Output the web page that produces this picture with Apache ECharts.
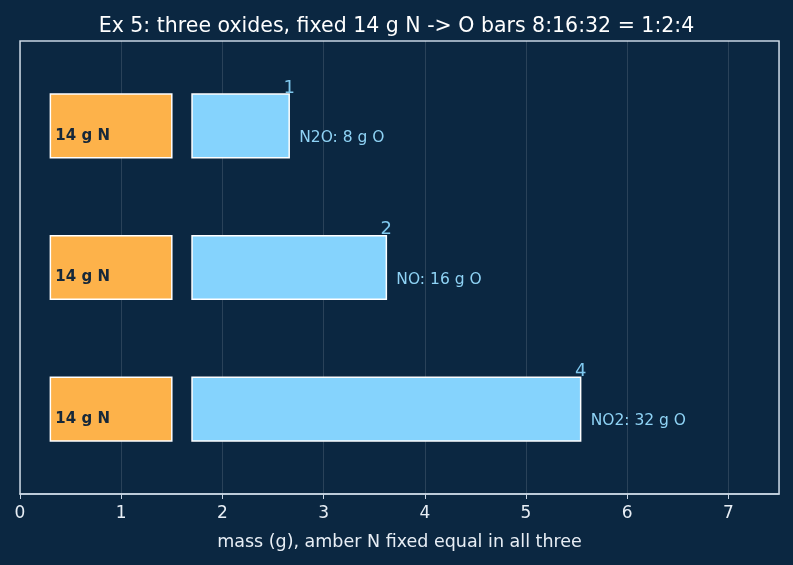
<!DOCTYPE html>
<html>
<head>
<meta charset="utf-8">
<script src="https://cdn.jsdelivr.net/npm/echarts@6/dist/echarts.min.js"></script>
<style>
  html, body { margin: 0; padding: 0; background: #0b2741; }
  #chart { width: 793px; height: 565px; }
</style>
</head>
<body>
<div id="chart"></div>
<script>
// data
const oxides = ['N2O', 'NO', 'NO2']
const oxygenGrams = [8, 16, 32]
const ratios = [1, 2, 4]
const nitrogenGrams = 14
const rowPos = [2, 1, 0]

// layout of the bars on the mass axis
const N_START = 0.3
const N_END = 1.5
const O_START = 1.7
const O_SCALE = 0.12
const BAR_H = 0.45

const FONT = '"DejaVu Sans", sans-serif'

const chart = echarts.init(document.getElementById('chart'))

function renderBars(params, api) {
  const i = api.value(0)
  const y = api.value(1)
  const oEnd = O_START + api.value(2) * O_SCALE
  const tl1 = api.coord([N_START, y + BAR_H / 2])
  const br1 = api.coord([N_END, y - BAR_H / 2])
  const tl2 = api.coord([O_START, y + BAR_H / 2])
  const br2 = api.coord([oEnd, y - BAR_H / 2])
  const mid = api.coord([0, y])[1]
  return {
    type: 'group',
    children: [
      {
        type: 'rect',
        shape: {x: tl1[0], y: tl1[1], width: br1[0] - tl1[0], height: br1[1] - tl1[1]},
        style: {fill: '#fdb24a', stroke: '#ffffff', lineWidth: 1.5}
      },
      {
        type: 'rect',
        shape: {x: tl2[0], y: tl2[1], width: br2[0] - tl2[0], height: br2[1] - tl2[1]},
        style: {fill: '#85d3fd', stroke: '#ffffff', lineWidth: 1.5}
      },
      {
        type: 'text',
        x: tl1[0] + 5,
        y: mid + 10,
        style: {
          text: nitrogenGrams + ' g N', fill: '#16283a', font: 'bold 15px ' + FONT,
          verticalAlign: 'middle', align: 'left'
        }
      },
      {
        type: 'text',
        x: br2[0],
        y: tl2[1] + 3,
        style: {
          text: String(api.value(3)), fill: '#7fc8ee', font: '18px ' + FONT,
          verticalAlign: 'bottom', align: 'center'
        }
      },
      {
        type: 'text',
        x: br2[0] + 10,
        y: mid + 12,
        style: {
          text: oxides[i] + ': ' + api.value(2) + ' g O', fill: '#8fd3f5', font: '15.5px ' + FONT,
          verticalAlign: 'middle', align: 'left'
        }
      }
    ]
  }
}

const option = {
  backgroundColor: '#0b2741',
  animation: false,
  title: {
    text: 'Ex 5: three oxides, fixed 14 g N -> O bars 8:16:32 = 1:2:4',
    left: 'center',
    top: 11,
    textStyle: {color: '#ffffff', fontFamily: 'DejaVu Sans', fontSize: 20.5, fontWeight: 'normal'}
  },
  grid: {
    left: 20, right: 14, top: 41, bottom: 71,
    show: true, borderColor: '#c9d6e3', borderWidth: 1.5, backgroundColor: 'transparent'
  },
  xAxis: {
    type: 'value',
    min: 0, max: 7.5, interval: 1,
    name: 'mass (g), amber N fixed equal in all three',
    nameLocation: 'middle',
    nameGap: 39,
    nameTextStyle: {color: '#e8eef5', fontFamily: 'DejaVu Sans', fontSize: 17.5},
    axisLine: {show: true, onZero: false, lineStyle: {color: '#c9d6e3', width: 1.5}},
    axisTick: {show: true, length: 5, lineStyle: {color: '#c9d6e3'}},
    axisLabel: {color: '#e8eef5', fontFamily: 'DejaVu Sans', fontSize: 17, margin: 11, showMaxLabel: false},
    splitLine: {show: true, lineStyle: {color: 'rgba(255,255,255,0.13)', width: 1}}
  },
  yAxis: {
    type: 'value',
    min: -0.6, max: 2.6,
    axisLine: {show: false},
    axisTick: {show: false},
    axisLabel: {show: false},
    splitLine: {show: false}
  },
  series: [{
    type: 'custom',
    renderItem: renderBars,
    data: oxides.map((name, i) => [i, rowPos[i], oxygenGrams[i], ratios[i]])
  }]
}

chart.setOption(option)
</script>
</body>
</html>
